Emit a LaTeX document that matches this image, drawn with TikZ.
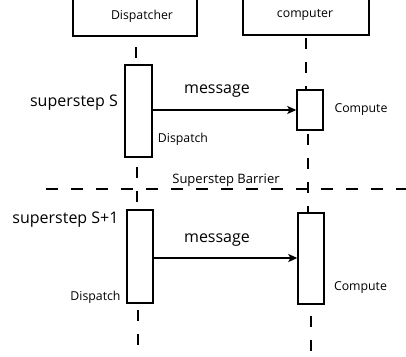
\documentclass[tikz,border=0pt]{standalone}
\usepackage{fontspec}
\setmainfont{Open Sans}
\usetikzlibrary{arrows.meta}
\tikzset{
  box/.style={draw, line width=1.4pt, fill=white, inner sep=0pt, rectangle},
  life/.style={line width=1.6pt, dash pattern=on 11pt off 13pt},
  barrier/.style={line width=1.6pt, dash pattern=on 12pt off 13pt},
  msg/.style={line width=1.4pt, -{Stealth[length=9pt,width=8pt,inset=2pt]}},
  lbl/.style={inner sep=0pt, font=\fontsize{12.3}{14}\selectfont},
  blbl/.style={inner sep=0pt, font=\fontsize{13}{15}\selectfont},
  big/.style={inner sep=0pt, font=\fontsize{16}{18}\selectfont},
}
\begin{document}
\begin{tikzpicture}[x=1pt,y=-1pt]
\useasboundingbox (0,0) rectangle (406,356);
\clip (0,0) rectangle (406,356);
% header boxes
\node[box, minimum width=124pt, minimum height=40pt] (dh) at (135,16) {};
\node[box, minimum width=126pt, minimum height=39pt] (ch) at (306,15.5) {};
\node[lbl] (dhl) at (142,16) {Dispatcher};
\node[lbl] (chl) at (305,15) {computer};
% activation boxes
\node[box, minimum width=27pt, minimum height=92pt] (a1) at (138.5,111) {};
\node[box, minimum width=26pt, minimum height=40pt] (c1) at (310,110) {};
\node[box, minimum width=26pt, minimum height=93pt] (a2) at (140,256.5) {};
\node[box, minimum width=26pt, minimum height=91pt] (c2) at (311,258.5) {};
% lifelines
\coordinate (dtop) at (136,36);
\coordinate (a1t) at (136,65);
\coordinate (a1b) at (137,157);
\coordinate (a2t) at (137,210);
\coordinate (a2b) at (138,303);
\coordinate (dend) at (138,356);
\coordinate (ctop) at (306,35);
\coordinate (c1t) at (306,90);
\coordinate (c1b) at (308,130);
\coordinate (c2t) at (308,213);
\coordinate (c2b) at (311,304);
\coordinate (cend) at (311,356);
\draw[life, dash phase=13pt] (dtop) -- (a1t);
\draw[life, dash phase=14pt] (a1b) -- (a2t);
\draw[life, dash phase=17pt] (a2b) -- (dend);
\draw[life, dash phase=21pt] (ctop) -- (c1t);
\draw[life, dash phase=20pt] (c1b) -- (c2t);
\draw[life, dash phase=12pt] (c2b) -- (cend);
% barrier
\coordinate (bl) at (46,189);
\coordinate (br) at (406,189);
\draw[barrier] (bl) -- (br);
\node[blbl] (bt) at (226,180) {Superstep Barrier};
% messages
\draw[msg] (a1.east |- 0,110) -- (c1.west |- 0,110);
\draw[msg] (a2.east |- 0,258) -- (c2.west |- 0,258);
\node[big] (m1) at (217,91) {message};
\node[big] (m2) at (217,240) {message};
% labels
\node[big] (s1) at (74,103) {superstep S};
\node[big] (s2) at (65.5,220) {superstep S+1};
\node[lbl] (cp1) at (361,110) {Compute};
\node[lbl] (cp2) at (360.5,288) {Compute};
\node[lbl] (dp1) at (183,139) {Dispatch};
\node[lbl] (dp2) at (95.5,297) {Dispatch};
\end{tikzpicture}
\end{document}
